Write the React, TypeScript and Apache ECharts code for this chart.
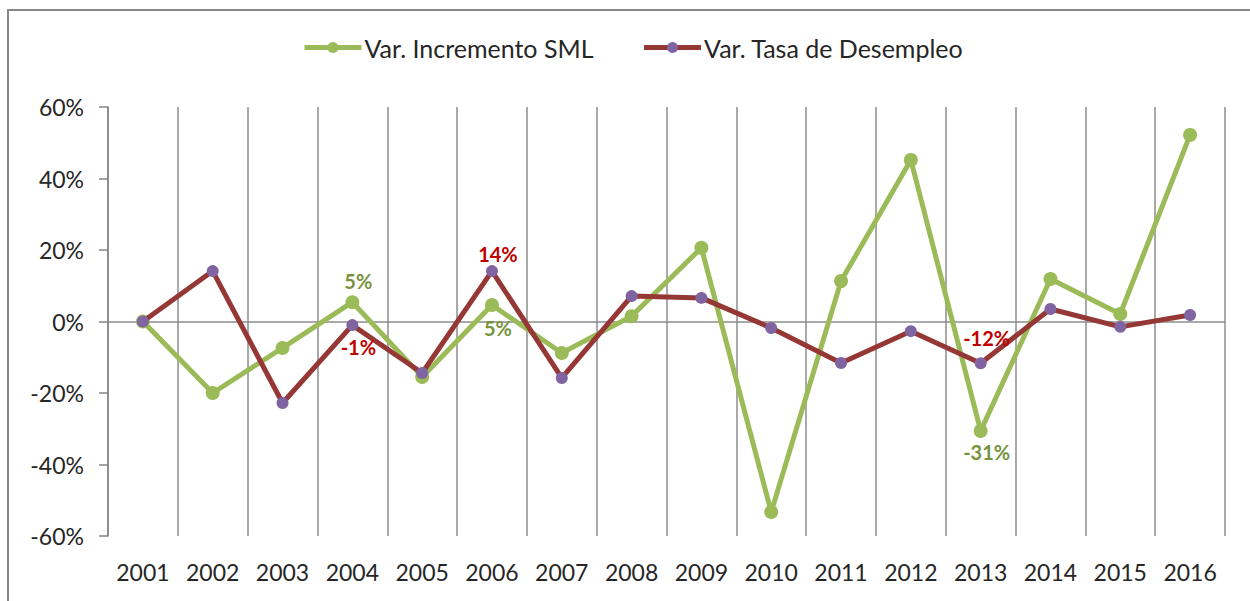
import React, { useEffect, useRef } from "react";
import * as echarts from "echarts";

const years = ["2001","2002","2003","2004","2005","2006","2007","2008","2009","2010","2011","2012","2013","2014","2015","2016"];
const incrementoSML = [0, -20.0, -7.4, 5.4, -15.5, 4.6, -8.8, 1.5, 20.6, -53.3, 11.3, 45.2, -30.6, 11.9, 2.1, 52.2];
const tasaDesempleo = [0, 14.1, -22.8, -1.0, -14.4, 14.1, -15.8, 7.1, 6.6, -1.8, -11.6, -2.7, -11.7, 3.5, -1.5, 1.8];
const yTicks = [-60, -40, -20, 0, 20, 40, 60];

const labeledSML: Record<number, [string, number]> = { 3: ["top", 4], 5: ["bottom", 6], 12: ["bottom", 4] };
const labeledDesempleo: Record<number, [string, number]> = { 3: ["bottom", 6], 5: ["top", 1], 12: ["top", 9] };

const FONT = "Lato, 'Open Sans', sans-serif";
const GREEN = "#9BBB59";
const GREEN_LABEL = "#77933C";
const RED = "#953735";
const RED_LABEL = "#C00000";
const PURPLE = "#8064A2";

function buildData(values: number[], labeled: Record<number, [string, number]>, color: string) {
  return values.map((v, i) => {
    const cfg = labeled[i];
    if (!cfg) return v;
    return {
      value: v,
      label: {
        show: true,
        position: cfg[0],
        distance: cfg[1],
        offset: [6, 0],
        color,
        fontFamily: FONT,
        fontWeight: "bold",
        fontSize: 20,
        formatter: (p: any) => Math.round(p.value) + "%",
      },
    };
  });
}

export default function App() {
  const ref = useRef<HTMLDivElement>(null);
  useEffect(() => {
    if (!ref.current) return;
    const chart = echarts.init(ref.current, undefined, { renderer: "svg" });
    const splitColors = yTicks.map((t) => (t === 0 ? "#8C8C8C" : "rgba(0,0,0,0)"));
    chart.setOption({
      animation: false,
      backgroundColor: "#ffffff",
      textStyle: { fontFamily: FONT },
      graphic: [
        {
          type: "rect",
          shape: { x: 8, y: 10, width: 1400, height: 800 },
          style: { fill: "none", stroke: "#878787", lineWidth: 2 },
          silent: true,
          z: -1,
        },
      ],
      legend: {
        left: 297,
        top: 30,
        itemWidth: 57,
        itemHeight: 14,
        itemGap: 48,
        lineStyle: { width: 5 },
        textStyle: { fontFamily: FONT, fontSize: 25, color: "#262626", padding: [0, 0, 0, -2] },
        data: ["Var. Incremento SML", "Var. Tasa de Desempleo"],
      },
      grid: { left: 108, right: 25, top: 107, bottom: 65, containLabel: false },
      xAxis: {
        type: "category",
        data: years,
        boundaryGap: true,
        axisLine: { show: false, onZero: false },
        axisTick: { show: false },
        axisLabel: { color: "#262626", fontFamily: FONT, fontSize: 23, margin: 24 },
        splitLine: { show: true, lineStyle: { color: "#8C8C8C", width: 1.5 } },
      },
      yAxis: {
        type: "value",
        min: -60,
        max: 60,
        interval: 20,
        axisLine: { show: true, lineStyle: { color: "#868686", width: 1.5 } },
        axisTick: { show: true, inside: false, length: 9, lineStyle: { color: "#868686", width: 1.5 } },
        axisLabel: { color: "#262626", fontFamily: FONT, fontSize: 23, margin: 24, formatter: (v: number) => v + "%" },
        splitLine: { show: true, lineStyle: { color: splitColors, width: 1.5 } },
      },
      series: [
        {
          name: "Var. Incremento SML",
          type: "line",
          data: buildData(incrementoSML, labeledSML, GREEN_LABEL),
          symbol: "circle",
          symbolSize: 14,
          lineStyle: { color: GREEN, width: 5 },
          itemStyle: { color: GREEN },
          z: 2,
        },
        {
          name: "Var. Tasa de Desempleo",
          type: "line",
          data: buildData(tasaDesempleo, labeledDesempleo, RED_LABEL),
          symbol: "circle",
          symbolSize: 12,
          lineStyle: { color: RED, width: 5 },
          itemStyle: { color: PURPLE },
          z: 3,
        },
      ],
    });
    return () => chart.dispose();
  }, []);
  return (
    <div
      ref={ref}
      style={{ position: "fixed", left: 0, top: 0, width: 1250, height: 601 }}
    />
  );
}
